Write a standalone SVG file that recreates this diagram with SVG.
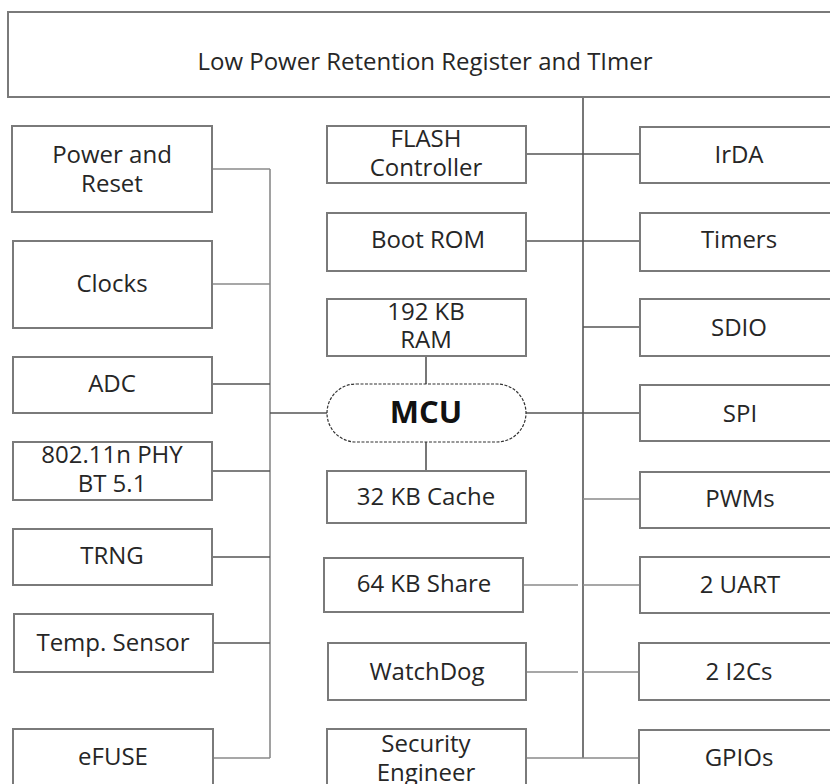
<svg xmlns="http://www.w3.org/2000/svg" width="830" height="784" viewBox="0 0 830 784">
<style>
.box{fill:#fff;stroke:#7a7a7a;stroke-width:2}
.t{font-family:"Open Sans","Liberation Sans",sans-serif;font-size:24px;fill:#262626;text-anchor:middle}
.b{font-weight:bold;font-size:31px;fill:#111}
.ln{stroke:#555;stroke-width:1.6;fill:none}
.lt{stroke:#8a8a8a;stroke-width:1.6;fill:none}
.pill{fill:#fff;stroke:#333;stroke-width:1.2;stroke-dasharray:3 1.5}
</style>
<rect width="830" height="784" fill="#fff"/>
<g id="connectors">
<line class="ln" x1="583" y1="97" x2="583" y2="758"/>
<line class="lt" x1="270" y1="169" x2="270" y2="758"/>
<line class="lt" x1="213" y1="169" x2="270" y2="169"/>
<line class="lt" x1="212" y1="284" x2="270" y2="284"/>
<line class="ln" x1="212" y1="384" x2="270" y2="384"/>
<line class="ln" x1="270" y1="413" x2="327" y2="413"/>
<line class="ln" x1="212" y1="471" x2="270" y2="471"/>
<line class="ln" x1="212" y1="557" x2="270" y2="557"/>
<line class="ln" x1="213" y1="643" x2="270" y2="643"/>
<line class="lt" x1="213" y1="758" x2="270" y2="758"/>
<line class="ln" x1="426" y1="356" x2="426" y2="384"/>
<line class="ln" x1="426" y1="442" x2="426" y2="471"/>
<line class="ln" x1="526" y1="154" x2="640" y2="154"/>
<line class="ln" x1="526" y1="241" x2="640" y2="241"/>
<line class="ln" x1="583" y1="327" x2="640" y2="327"/>
<line class="ln" x1="526" y1="413" x2="640" y2="413"/>
<line class="lt" x1="583" y1="499" x2="640" y2="499"/>
<line class="lt" x1="523" y1="585" x2="578" y2="585"/>
<line class="lt" x1="583" y1="585" x2="640" y2="585"/>
<line class="lt" x1="526" y1="672" x2="578" y2="672"/>
<line class="lt" x1="583" y1="672" x2="640" y2="672"/>
<line class="lt" x1="526" y1="758" x2="640" y2="758"/>
</g>
<g id="lpr"><rect class="box" x="8" y="12" width="840" height="85"/><text class="t" x="425" y="70">Low Power Retention Register and TImer</text></g>
<g id="power"><rect class="box" x="12" y="126" width="200" height="86"/><text class="t" x="112" y="163">Power and</text><text class="t" x="112" y="192">Reset</text></g>
<g id="clocks"><rect class="box" x="13" y="241" width="199" height="87"/><text class="t" x="112" y="292">Clocks</text></g>
<g id="adc"><rect class="box" x="13" y="357" width="199" height="56"/><text class="t" x="112" y="392">ADC</text></g>
<g id="phy"><rect class="box" x="13" y="442" width="199" height="58"/><text class="t" x="112" y="463">802.11n PHY</text><text class="t" x="112" y="492">BT 5.1</text></g>
<g id="trng"><rect class="box" x="13" y="529" width="199" height="56"/><text class="t" x="112" y="564">TRNG</text></g>
<g id="temp"><rect class="box" x="14" y="614" width="199" height="58"/><text class="t" x="113" y="651">Temp. Sensor</text></g>
<g id="efuse"><rect class="box" x="13" y="729" width="200" height="70"/><text class="t" x="113" y="765">eFUSE</text></g>
<g id="flash"><rect class="box" x="327" y="126" width="199" height="57"/><text class="t" x="426" y="147">FLASH</text><text class="t" x="426" y="176">Controller</text></g>
<g id="bootrom"><rect class="box" x="327" y="213" width="199" height="58"/><text class="t" x="428" y="248">Boot ROM</text></g>
<g id="ram"><rect class="box" x="327" y="299" width="199" height="57"/><text class="t" x="426" y="320">192 KB</text><text class="t" x="426" y="348">RAM</text></g>
<g id="mcu"><rect class="pill" x="327" y="384" width="199" height="58" rx="29" ry="29"/><text class="t b" x="426" y="423">MCU</text></g>
<g id="cache"><rect class="box" x="327" y="471" width="199" height="52"/><text class="t" x="426" y="505">32 KB Cache</text></g>
<g id="share"><rect class="box" x="324" y="558" width="199" height="54"/><text class="t" x="424" y="592">64 KB Share</text></g>
<g id="watchdog"><rect class="box" x="328" y="643" width="198" height="57"/><text class="t" x="427" y="680">WatchDog</text></g>
<g id="security"><rect class="box" x="327" y="729" width="199" height="70"/><text class="t" x="426" y="752">Security</text><text class="t" x="426" y="781">Engineer</text></g>
<g id="irda"><rect class="box" x="640" y="127" width="210" height="56"/><text class="t" x="739" y="163">IrDA</text></g>
<g id="timers"><rect class="box" x="640" y="213" width="210" height="58"/><text class="t" x="739" y="248">Timers</text></g>
<g id="sdio"><rect class="box" x="640" y="299" width="210" height="57"/><text class="t" x="739" y="336">SDIO</text></g>
<g id="spi"><rect class="box" x="640" y="385" width="210" height="56"/><text class="t" x="740" y="422">SPI</text></g>
<g id="pwms"><rect class="box" x="640" y="472" width="210" height="56"/><text class="t" x="740" y="507">PWMs</text></g>
<g id="uart"><rect class="box" x="640" y="557" width="210" height="56"/><text class="t" x="740" y="593">2 UART</text></g>
<g id="i2c"><rect class="box" x="639" y="643" width="211" height="57"/><text class="t" x="739" y="680">2 I2Cs</text></g>
<g id="gpios"><rect class="box" x="639" y="730" width="211" height="70"/><text class="t" x="739" y="766">GPIOs</text></g>
</svg>
